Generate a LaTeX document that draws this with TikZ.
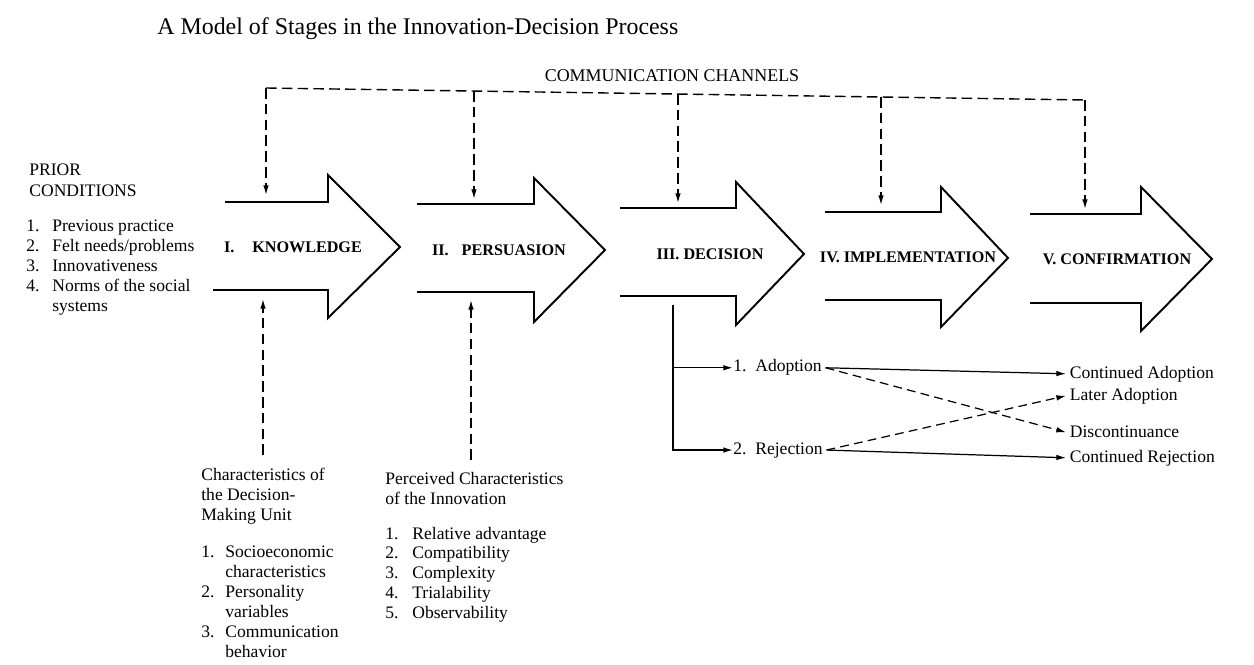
\documentclass[tikz,border=0pt]{standalone}
\usepackage{fontspec}
\setmainfont{Liberation Serif}
\usetikzlibrary{arrows.meta}

\tikzset{
    txt/.style={anchor=base west, inner sep=0pt, font=\fontsize{10}{12}\selectfont},
    stage/.style={inner sep=0pt, font=\fontsize{9.2}{11}\selectfont\bfseries},
    stagearrow/.style={line width=1.1pt, line join=miter},
    channel/.style={line width=0.8pt, dash pattern=on 6pt off 3pt},
    arrowtip/.style={-{Latex[length=5.5pt,width=3.2pt]}},
    outcome/.style={anchor=base west, inner sep=2pt, font=\fontsize{10}{12}\selectfont}
}

\begin{document}
\begin{tikzpicture}[x=0.02cm, y=-0.02cm]
    \useasboundingbox[fill=white] (0,0) rectangle (1254,665);

    % Title
    \node[anchor=base west, inner sep=0pt, font=\fontsize{13.6}{16}\selectfont] (TITLE) at (157,35) {A Model of Stages in the Innovation-Decision Process};

    % Stage arrows
    \foreach \xa/\xb/\yt/\yb/\xn/\yht/\yhb/\xt/\yy in {225/213/202/290/328/175/318/400/247,
        417/417/204/292/534/178/322/605/250, 620/620/208/296/736/182/325/804/254,
        825/825/212/300/941/187/327/1008/258, 1030/1030/214/303/1141/187/331/1212/259} {
        \draw[stagearrow] (\xa,\yt) -- (\xn,\yt) -- (\xn,\yht) -- (\xt,\yy) -- (\xn,\yhb) -- (\xn,\yb) -- (\xb,\yb);
    }
    \node[stage] (KNOW) at (293,247) {I.\hspace{1.1em}KNOWLEDGE};
    \node[stage] (PERS) at (499,250) {II.\hspace{0.8em}PERSUASION};
    \node[stage] (DECI) at (710,254) {III. DECISION};
    \node[stage] (IMPL) at (908,257) {IV. IMPLEMENTATION};
    \node[stage] (CONF) at (1117,259) {V. CONFIRMATION};

    % Communication channels
    \node[anchor=base, inner sep=0pt, font=\fontsize{10.2}{12}\selectfont] (COMM) at (672,82) {COMMUNICATION CHANNELS};
    \foreach \i/\x/\y/\e in {1/266/88/195, 2/474/91/199, 3/678/94/203, 4/881/97/205, 5/1085/100/209} {
        \coordinate (CC\i) at (\x,\y);
        \coordinate (CE\i) at (\x,\e);
    }
    \draw[channel] (CC1) -- (CC5);
    \foreach \i in {1,...,5} {
        \draw[channel, arrowtip] (CC\i) -- (CE\i);
    }

    % Prior conditions
    \node[txt] (PRIOR) at (29,176) {PRIOR};
    \node[txt] (COND) at (29,197) {CONDITIONS};
    \foreach \n/\t/\y in {1./Previous practice/232, 2./Felt needs\slash problems/252,
        3./Innovativeness/272, 4./Norms of the social/292, /systems/312} {
        \node[txt] at (26,\y) {\n};
        \node[txt] at (52,\y) {\t};
    }

    % Characteristics of the decision-making unit
    \coordinate (DMU) at (263,455);
    \coordinate (DMUTIP) at (263,299);
    \draw[channel, arrowtip] (DMU) -- (DMUTIP);
    \node[txt] (CHAR) at (201,480) {Characteristics of};
    \node[txt] at (201,500) {the Decision-};
    \node[txt] at (201,520) {Making Unit};
    \foreach \n/\t/\y in {1./Socioeconomic/557, /characteristics/577, 2./Personality/597,
        /variables/617, 3./Communication/637, /behavior/657} {
        \node[txt] at (201,\y) {\n};
        \node[txt] at (225,\y) {\t};
    }

    % Perceived characteristics of the innovation
    \coordinate (INNO) at (471,460);
    \coordinate (INNOTIP) at (471,300);
    \draw[channel, arrowtip] (INNO) -- (INNOTIP);
    \node[txt] (PERC) at (385,484) {Perceived Characteristics};
    \node[txt] at (385,504) {of the Innovation};
    \foreach \n/\t/\y in {1./Relative advantage/539, 2./Compatibility/558, 3./Complexity/578,
        4./Trialability/598, 5./Observability/618} {
        \node[txt] at (385,\y) {\n};
        \node[txt] at (412,\y) {\t};
    }

    % Decision outcomes
    \coordinate (DTOP) at (673,305);
    \node[outcome, inner sep=0pt] (ADOPT) at (733,372) {1.\ \ Adoption};
    \node[outcome, inner sep=0pt] (REJECT) at (733,454) {2.\ \ Rejection};
    \draw[line width=0.8pt, arrowtip] (DTOP) |- (ADOPT.west);
    \draw[line width=0.8pt, arrowtip] (DTOP) |- (REJECT.west);

    \node[outcome] (CONTAD) at (1066,378) {Continued Adoption};
    \node[outcome] (LATAD) at (1066,400) {Later Adoption};
    \node[outcome] (DISC) at (1066,438) {Discontinuance};
    \node[outcome] (CONTREJ) at (1066,462) {Continued Rejection};

    \draw[line width=0.7pt, arrowtip] ([xshift=2pt]ADOPT.east) -- (CONTAD.west);
    \draw[line width=0.7pt, arrowtip, dash pattern=on 5pt off 3pt] ([xshift=2pt]ADOPT.east) -- (DISC.west);
    \draw[line width=0.7pt, arrowtip, dash pattern=on 5pt off 3pt] ([xshift=2pt]REJECT.east) -- (LATAD.west);
    \draw[line width=0.7pt, arrowtip] ([xshift=2pt]REJECT.east) -- (CONTREJ.west);
\end{tikzpicture}
\end{document}
